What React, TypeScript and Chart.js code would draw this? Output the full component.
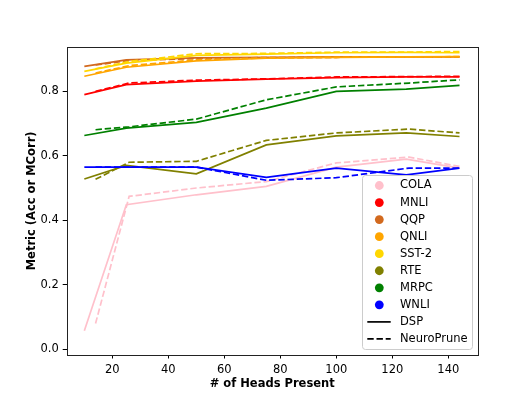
import React, { useEffect, useRef } from "react";
import { Chart, registerables } from "chart.js";

Chart.register(...registerables);

const headsDSP = [10, 25, 50, 75, 100, 125, 144];
const headsNP = [14, 26, 50, 75, 100, 126, 144];

const tasks = ["COLA", "MNLI", "QQP", "QNLI", "SST-2", "RTE", "MRPC", "WNLI"];
const taskColors = ["#FFC0CB", "#FF0000", "#D2691E", "#FFA500", "#FFD700", "#808000", "#008000", "#0000FF"];

const dspCOLA = [0.057, 0.448, 0.479, 0.505, 0.565, 0.59, 0.562];
const npCOLA = [0.079, 0.474, 0.5, 0.52, 0.578, 0.596, 0.567];
const dspMNLI = [0.79, 0.821, 0.832, 0.838, 0.843, 0.845, 0.845];
const npMNLI = [0.8, 0.826, 0.835, 0.839, 0.845, 0.846, 0.847];
const dspQQP = [0.878, 0.898, 0.904, 0.906, 0.907, 0.907, 0.907];
const npQQP = [0.882, 0.896, 0.902, 0.905, 0.906, 0.907, 0.907];
const dspQNLI = [0.847, 0.875, 0.895, 0.903, 0.906, 0.907, 0.908];
const npQNLI = [0.857, 0.88, 0.898, 0.904, 0.906, 0.907, 0.908];
const dspSST2 = [0.862, 0.888, 0.912, 0.916, 0.92, 0.921, 0.92];
const npSST2 = [0.87, 0.893, 0.917, 0.918, 0.922, 0.922, 0.924];
const dspRTE = [0.528, 0.57, 0.544, 0.634, 0.662, 0.671, 0.66];
const npRTE = [0.527, 0.58, 0.583, 0.648, 0.671, 0.683, 0.671];
const dspMRPC = [0.663, 0.686, 0.704, 0.748, 0.8, 0.807, 0.819];
const npMRPC = [0.681, 0.69, 0.714, 0.774, 0.814, 0.826, 0.836];
const dspWNLI = [0.565, 0.565, 0.565, 0.533, 0.562, 0.541, 0.562];
const npWNLI = [0.565, 0.565, 0.565, 0.524, 0.532, 0.562, 0.562];

const dspSeries = [dspCOLA, dspMNLI, dspQQP, dspQNLI, dspSST2, dspRTE, dspMRPC, dspWNLI];
const npSeries = [npCOLA, npMNLI, npQQP, npQNLI, npSST2, npRTE, npMRPC, npWNLI];

const xTicks = [20, 40, 60, 80, 100, 120, 140];
const yTicks = [0.0, 0.2, 0.4, 0.6, 0.8];
const methodNames = ["DSP", "NeuroPrune"];

const FONT = "'DejaVu Sans', sans-serif";
const FS = 11.5;

const framePlugin = {
  id: "frame",
  afterDraw(chart: any) {
    const { ctx, chartArea } = chart;
    ctx.save();
    ctx.strokeStyle = "#222";
    ctx.lineWidth = 1;
    const l = Math.round(chartArea.left) + 0.5;
    const t = Math.round(chartArea.top) + 0.5;
    const r = Math.round(chartArea.right) + 0.5;
    const b = Math.round(chartArea.bottom) + 0.5;
    ctx.strokeRect(l, t, r - l, b - t);

    // legend
    const lx = 362.5, ly = 175.5, lw = 110, lh = 174, rad = 3;
    ctx.beginPath();
    ctx.moveTo(lx + rad, ly);
    ctx.lineTo(lx + lw - rad, ly);
    ctx.quadraticCurveTo(lx + lw, ly, lx + lw, ly + rad);
    ctx.lineTo(lx + lw, ly + lh - rad);
    ctx.quadraticCurveTo(lx + lw, ly + lh, lx + lw - rad, ly + lh);
    ctx.lineTo(lx + rad, ly + lh);
    ctx.quadraticCurveTo(lx, ly + lh, lx, ly + lh - rad);
    ctx.lineTo(lx, ly + rad);
    ctx.quadraticCurveTo(lx, ly, lx + rad, ly);
    ctx.closePath();
    ctx.fillStyle = "rgba(255,255,255,0.8)";
    ctx.fill();
    ctx.strokeStyle = "#cccccc";
    ctx.lineWidth = 1;
    ctx.stroke();

    ctx.font = `${FS}px ${FONT}`;
    ctx.textBaseline = "middle";
    ctx.textAlign = "left";
    const y0 = 185.5, dy = 17.05;
    tasks.forEach((name, i) => {
      const y = y0 + i * dy;
      ctx.beginPath();
      ctx.arc(379.3, y, 4.4, 0, Math.PI * 2);
      ctx.fillStyle = taskColors[i];
      ctx.fill();
      ctx.fillStyle = "#000";
      ctx.fillText(name, 400, y);
    });
    methodNames.forEach((name, j) => {
      const y = y0 + (tasks.length + j) * dy;
      ctx.beginPath();
      ctx.strokeStyle = "#000";
      ctx.lineWidth = 1.7;
      ctx.setLineDash(j === 0 ? [] : [6.4, 2.8]);
      ctx.moveTo(367.3, y);
      ctx.lineTo(390.7, y);
      ctx.stroke();
      ctx.setLineDash([]);
      ctx.fillStyle = "#000";
      ctx.fillText(name, 400, y);
    });
    ctx.restore();
  },
};

export default function App() {
  const ref = useRef<HTMLCanvasElement>(null);
  useEffect(() => {
    document.body.style.margin = "0";
    const datasets: any[] = [];
    tasks.forEach((name, i) => {
      datasets.push({
        label: name + " DSP",
        data: headsDSP.map((x, k) => ({ x, y: dspSeries[i][k] })),
        borderColor: taskColors[i],
        backgroundColor: taskColors[i],
        borderWidth: 1.7,
        pointRadius: 0,
        tension: 0,
        fill: false,
      });
      datasets.push({
        label: name + " NeuroPrune",
        data: headsNP.map((x, k) => ({ x, y: npSeries[i][k] })),
        borderColor: taskColors[i],
        backgroundColor: taskColors[i],
        borderWidth: 1.7,
        borderDash: [6.4, 2.8],
        pointRadius: 0,
        tension: 0,
        fill: false,
      });
    });
    datasets.reverse();

    const chart = new Chart(ref.current!, {
      type: "line",
      data: { datasets },
      options: {
        animation: false,
        responsive: false,
        devicePixelRatio: 1,
        layout: { padding: { left: 21, top: 47.3, right: 53.3, bottom: 4 } },
        plugins: { legend: { display: false }, tooltip: { enabled: false } },
        scales: {
          x: {
            type: "linear",
            min: 3.7,
            max: 150.5,
            afterFit: (s: any) => { s.height = 40.5; },
            afterBuildTicks: (s: any) => { s.ticks = xTicks.map((v) => ({ value: v })); },
            border: { display: false },
            grid: { drawOnChartArea: false, drawTicks: true, tickLength: 4, color: "#000" },
            ticks: { color: "#000", font: { family: FONT, size: FS }, padding: 5, maxRotation: 0, autoSkip: false },
            title: { display: true, text: "# of Heads Present", color: "#000", font: { family: FONT, size: FS, weight: "bold" }, padding: { top: 4, bottom: 4 } },
          },
          y: {
            type: "linear",
            min: -0.017,
            max: 0.937,
            afterFit: (s: any) => { s.width = 45.7; },
            afterBuildTicks: (s: any) => { s.ticks = yTicks.map((v) => ({ value: v })); },
            border: { display: false },
            grid: { drawOnChartArea: false, drawTicks: true, tickLength: 4, color: "#000" },
            ticks: { color: "#000", font: { family: FONT, size: FS }, padding: 4, callback: (v: any) => Number(v).toFixed(1) },
            title: { display: true, text: "Metric (Acc or MCorr)", color: "#000", font: { family: FONT, size: FS, weight: "bold" }, padding: { top: 4, bottom: 4 } },
          },
        },
      },
      plugins: [framePlugin],
    });
    return () => chart.destroy();
  }, []);
  return (
    <div style={{ width: 531, height: 399 }}>
      <canvas ref={ref} width={531} height={399} style={{ display: "block" }} />
    </div>
  );
}
